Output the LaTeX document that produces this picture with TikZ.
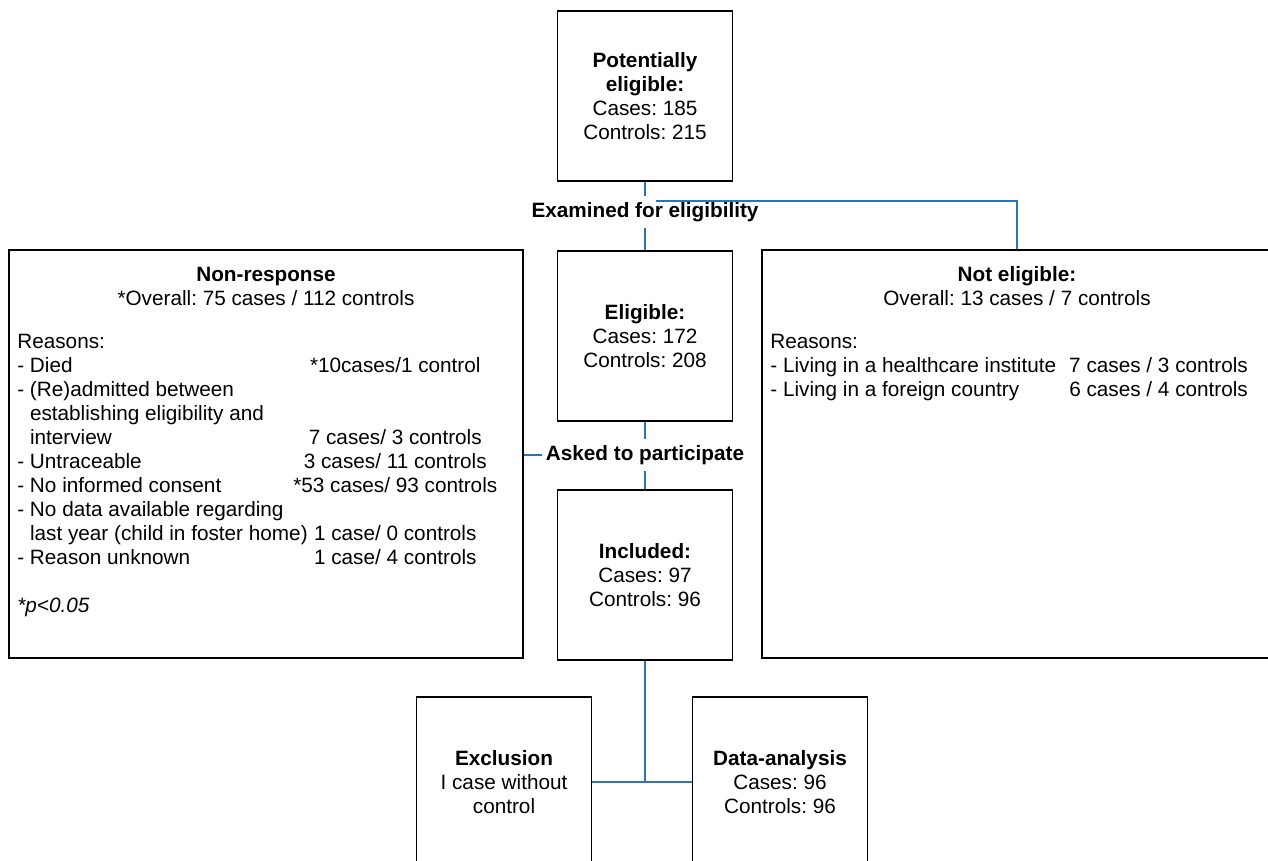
\documentclass[tikz,border=0pt]{standalone}
\usepackage{fontspec}
\setmainfont{Liberation Sans}
\usetikzlibrary{positioning, calc}
\definecolor{flowblue}{RGB}{46,116,181}
\frenchspacing

\begin{document}
\begin{tikzpicture}[
  x=0.02cm, y=-0.02cm,
  every node/.style={font=\fontsize{11.8}{13.7}\selectfont},
  stage/.style={draw, rectangle, line width=1.1pt, minimum width=3.5cm, minimum height=3.4cm, align=center, inner sep=0pt},
  panel/.style={draw, rectangle, line width=1.1pt, minimum height=8.18cm, inner sep=0pt},
  phase/.style={font=\fontsize{11.8}{13.7}\selectfont\bfseries, inner xsep=2pt},
  body/.style={inner sep=0pt},
  link/.style={draw=flowblue, line width=0.85pt}
]
\path[use as bounding box, fill=white] (0,0) rectangle (1268,861);

% Nodes
\node[stage] (potential) at (645,96) {\textbf{Potentially}\\\textbf{eligible:}\\Cases: 185\\Controls: 215};
\node[stage] (eligible) at (645,336) {\textbf{Eligible:}\\Cases: 172\\Controls: 208};
\node[stage] (included) at (645,575) {\textbf{Included:}\\Cases: 97\\Controls: 96};
\node[stage] (exclusion) at (504,782) {\textbf{Exclusion}\\I case without\\control};
\node[stage] (analysis) at (780,782) {\textbf{Data-analysis}\\Cases: 96\\Controls: 96};

\node[panel, minimum width=10.28cm] (nonresponse) at (266,454) {};
\node[panel, minimum width=10.2cm] (noteligible) at (1017,454) {};

\node[phase] (examined) at (645,212) {Examined for eligibility};
\node[phase] (asked) at (645,455) {Asked to participate};

% Panel texts
\node[body, anchor=north] (nonresponse title) at (266,264) {\begin{tabular}{@{}c@{}}
\textbf{Non-response}\\
{*}Overall: 75 cases / 112 controls
\end{tabular}};
\node[body, anchor=north west] (nonresponse reasons) at (17,331) {\begin{tabular}{@{}p{5.52cm}@{}c@{}}
Reasons: & \\
- Died & {*}10cases/1 control\\
- (Re)admitted between & \\
\phantom{-}\ establishing eligibility and & \\
\phantom{-}\ interview & 7 cases/ 3 controls\\
- Untraceable & 3 cases/ 11 controls\\
- No informed consent & {*}53 cases/ 93 controls\\
- No data available regarding & \\
\phantom{-}\ \rlap{last year (child in foster home)} & 1 case/ 0 controls\\
- Reason unknown & 1 case/ 4 controls\\
 & \\
\textit{*p<0.05} & \\
\end{tabular}};

\node[body, anchor=north] (noteligible title) at (1017,264) {\begin{tabular}{@{}c@{}}
\textbf{Not eligible:}\\
Overall: 13 cases / 7 controls
\end{tabular}};
\node[body, anchor=north west] (noteligible reasons) at (770,331) {\begin{tabular}{@{}p{5.98cm}@{}l@{}}
Reasons: & \\
- Living in a healthcare institute & 7 cases / 3 controls\\
- Living in a foreign country & 6 cases / 4 controls\\
\end{tabular}};

% Connectors
\coordinate (branch) at (656,201);
\draw[link] (potential) -- (examined);
\draw[link] (examined) -- (eligible);
\draw[link] (branch) -| (noteligible);
\draw[link] (eligible) -- (asked);
\draw[link] (asked) -- (included);
\draw[link] (asked) -- (asked -| nonresponse.east);
\draw[link] (included) -- (included |- exclusion);
\draw[link] (exclusion) -- (analysis);

\end{tikzpicture}
\end{document}
